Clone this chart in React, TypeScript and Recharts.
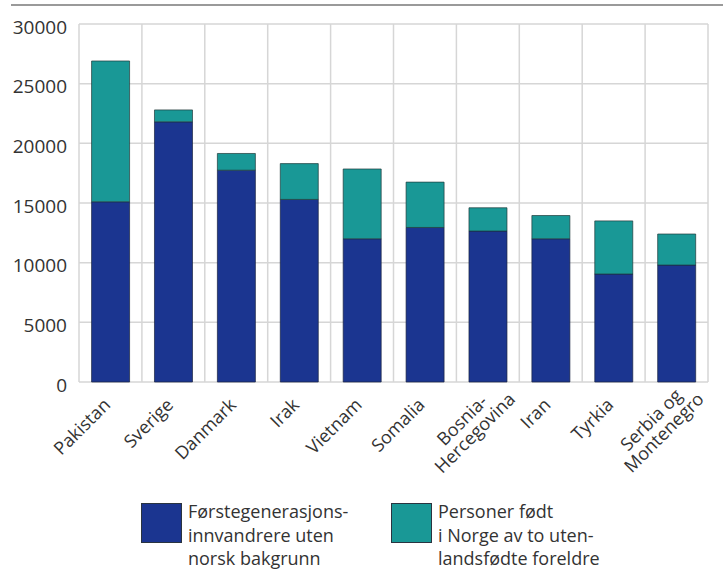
import React from 'react';
import { BarChart, Bar, XAxis, YAxis, CartesianGrid } from 'recharts';

if (typeof document !== 'undefined') {
  document.body.style.margin = '0';
}

const categories = [
  'Pakistan',
  'Sverige',
  'Danmark',
  'Irak',
  'Vietnam',
  'Somalia',
  'Bosnia-\nHercegovina',
  'Iran',
  'Tyrkia',
  'Serbia og\nMontenegro',
];
const firstGeneration = [15100, 21800, 17750, 15300, 12000, 12950, 12650, 12000, 9050, 9800];
const bornInNorway = [11800, 1000, 1400, 3000, 5850, 3800, 1950, 1950, 4450, 2600];
const yTicks = [0, 5000, 10000, 15000, 20000, 25000, 30000];
const seriesNames = [
  'Førstegenerasjons-\ninnvandrere uten\nnorsk bakgrunn',
  'Personer født\ni Norge av to uten-\nlandsfødte foreldre',
];
const seriesColors = ['#1b3590', '#199896'];

const data = categories.map((name, i) => ({
  name,
  first: firstGeneration[i],
  born: bornInNorway[i],
}));

const FONT = '"Open Sans", sans-serif';
const TEXT = '#333333';

let ctx: CanvasRenderingContext2D | null = null;
function measure(t: string, size: number) {
  if (!ctx) ctx = document.createElement('canvas').getContext('2d');
  if (!ctx) return t.length * size * 0.5;
  ctx.font = `${size}px "Open Sans"`;
  return ctx.measureText(t).width;
}

const XTick = (props: any) => {
  const { x, y, payload } = props;
  const lines = String(payload.value).split('\n');
  const fs = 18;
  if (lines.length === 1) {
    return (
      <g transform={`translate(${x + 1},${y + 24})`}>
        <text transform="rotate(-45)" textAnchor="end" fontSize={fs} fill={TEXT} fontFamily={FONT}>
          {lines[0]}
        </text>
      </g>
    );
  }
  const w = Math.max(...lines.map((l) => measure(l, fs)));
  const cx = 22 - w / 2;
  const lh = 18;
  const last = lines.length - 1;
  return (
    <g transform={`translate(${x + 3},${y + 24})`}>
      <g transform="rotate(-45)">
        {lines.map((l, i) => (
          <text
            key={i}
            x={cx}
            y={14 - (last - i) * lh}
            textAnchor="middle"
            fontSize={fs}
            fill={TEXT}
            fontFamily={FONT}
          >
            {l}
          </text>
        ))}
      </g>
    </g>
  );
};

const LegendItem = ({ color, label, left }: { color: string; label: string; left: number }) => (
  <div style={{ position: 'absolute', left, top: 502, display: 'flex', alignItems: 'flex-start' }}>
    <div
      style={{
        width: 41,
        height: 40,
        background: color,
        border: '1px solid #2a3440',
        boxSizing: 'border-box',
        marginTop: 1,
      }}
    />
    <div
      style={{
        marginLeft: 6,
        marginTop: -2,
        fontFamily: FONT,
        fontSize: 18,
        lineHeight: '23.5px',
        color: TEXT,
        whiteSpace: 'pre',
      }}
    >
      {label}
    </div>
  </div>
);

const categoryBoundaries = ({ offset }: any) =>
  categories.map((_, i) => offset.left + (i * offset.width) / categories.length).concat(offset.left + offset.width);

export default function App() {
  return (
    <div style={{ position: 'relative', width: 723, height: 574, background: '#fff', overflow: 'hidden' }}>
      <div style={{ position: 'absolute', left: 11, top: 4, width: 712, height: 2, background: '#9a9a9a' }} />
      <BarChart
        width={723}
        height={574}
        data={data}
        margin={{ top: 24, right: 15, left: 9, bottom: 0 }}
        barCategoryGap="20%"
      >
        <CartesianGrid
          stroke="#d6d6d6"
          strokeWidth={1.5}
          horizontal={true}
          vertical={true}
          verticalCoordinatesGenerator={categoryBoundaries}
        />
        <XAxis
          dataKey="name"
          interval={0}
          axisLine={false}
          tickLine={false}
          tickSize={0}
          tickMargin={0}
          height={192}
          tick={<XTick />}
        />
        <YAxis
          domain={[0, 30000]}
          ticks={yTicks}
          interval={0}
          width={70}
          axisLine={false}
          tickLine={false}
          tickSize={0}
          tickMargin={12}
          tick={{ fontSize: 19, fill: TEXT, fontFamily: FONT, dy: 3 }}
        />
        <Bar
          dataKey="first"
          stackId="a"
          fill={seriesColors[0]}
          stroke="#1a2340"
          strokeWidth={1}
          strokeOpacity={0.7}
          isAnimationActive={false}
        />
        <Bar
          dataKey="born"
          stackId="a"
          fill={seriesColors[1]}
          stroke="#1f3a3a"
          strokeWidth={1}
          strokeOpacity={0.7}
          isAnimationActive={false}
        />
      </BarChart>
      <LegendItem color={seriesColors[0]} label={seriesNames[0]} left={141} />
      <LegendItem color={seriesColors[1]} label={seriesNames[1]} left={391} />
    </div>
  );
}
